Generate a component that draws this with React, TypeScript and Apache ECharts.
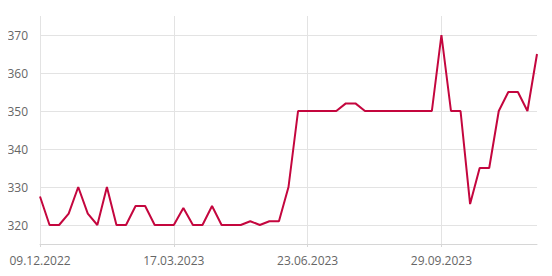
import React, { useEffect, useRef } from "react";
import * as echarts from "echarts";

const startDate = "2022-12-09";
const weekCount = 53;

const values = [
  327.5, 320, 320, 323, 330, 323, 320, 330, 320, 320,
  325, 325, 320, 320, 320, 324.5, 320, 320, 325, 320,
  320, 320, 321, 320, 321, 321, 330, 350, 350, 350,
  350, 350, 352, 352, 350, 350, 350, 350, 350, 350,
  350, 350, 370, 350, 350, 325.5, 335, 335, 350, 355,
  355, 350, 365,
];

const yTicks = [320, 330, 340, 350, 360, 370];

function buildDates(): string[] {
  const out: string[] = [];
  const base = new Date(startDate + "T12:00:00Z");
  for (let i = 0; i < weekCount; i++) {
    const d = new Date(base.getTime() + i * 7 * 86400000);
    const dd = String(d.getUTCDate()).padStart(2, "0");
    const mm = String(d.getUTCMonth() + 1).padStart(2, "0");
    out.push(`${dd}.${mm}.${d.getUTCFullYear()}`);
  }
  return out;
}

const categories = buildDates();

export default function App() {
  const ref = useRef<HTMLDivElement>(null);
  useEffect(() => {
    if (!ref.current) return;
    const chart = echarts.init(ref.current, null, { renderer: "svg" });
    chart.setOption({
      animation: false,
      grid: { left: 40, right: 15, top: 16, bottom: 32 },
      xAxis: {
        type: "category",
        data: categories,
        boundaryGap: false,
        axisLine: { show: true, lineStyle: { color: "#d6d6d6", width: 1 } },
        axisTick: { show: true, interval: 13, length: 3, lineStyle: { color: "#d6d6d6" } },
        axisLabel: {
          interval: 13,
          margin: 10,
          color: "#666",
          fontFamily: "Open Sans",
          fontSize: 12,
          hideOverlap: false,
        },
        splitLine: { show: true, interval: 13, lineStyle: { color: "#e3e3e3", width: 1 } },
      },
      yAxis: {
        type: "value",
        min: 315,
        max: 375,
        interval: 5,
        axisLine: { show: false },
        axisTick: { show: false },
        axisLabel: {
          margin: 12,
          color: "#666",
          fontFamily: "Open Sans",
          fontSize: 12,
          formatter: (v: number) => (yTicks.includes(v) ? String(v) : ""),
        },
        splitLine: {
          show: true,
          lineStyle: { color: ["transparent", "#e3e3e3"], width: 1 },
        },
      },
      series: [
        {
          type: "line",
          data: values,
          symbol: "none",
          lineStyle: { color: "#c4063e", width: 2 },
          itemStyle: { color: "#c4063e" },
        },
      ],
    });
    return () => chart.dispose();
  }, []);
  return <div ref={ref} style={{ width: 552, height: 276, margin: "-8px 0 0 -8px" }} />;
}
